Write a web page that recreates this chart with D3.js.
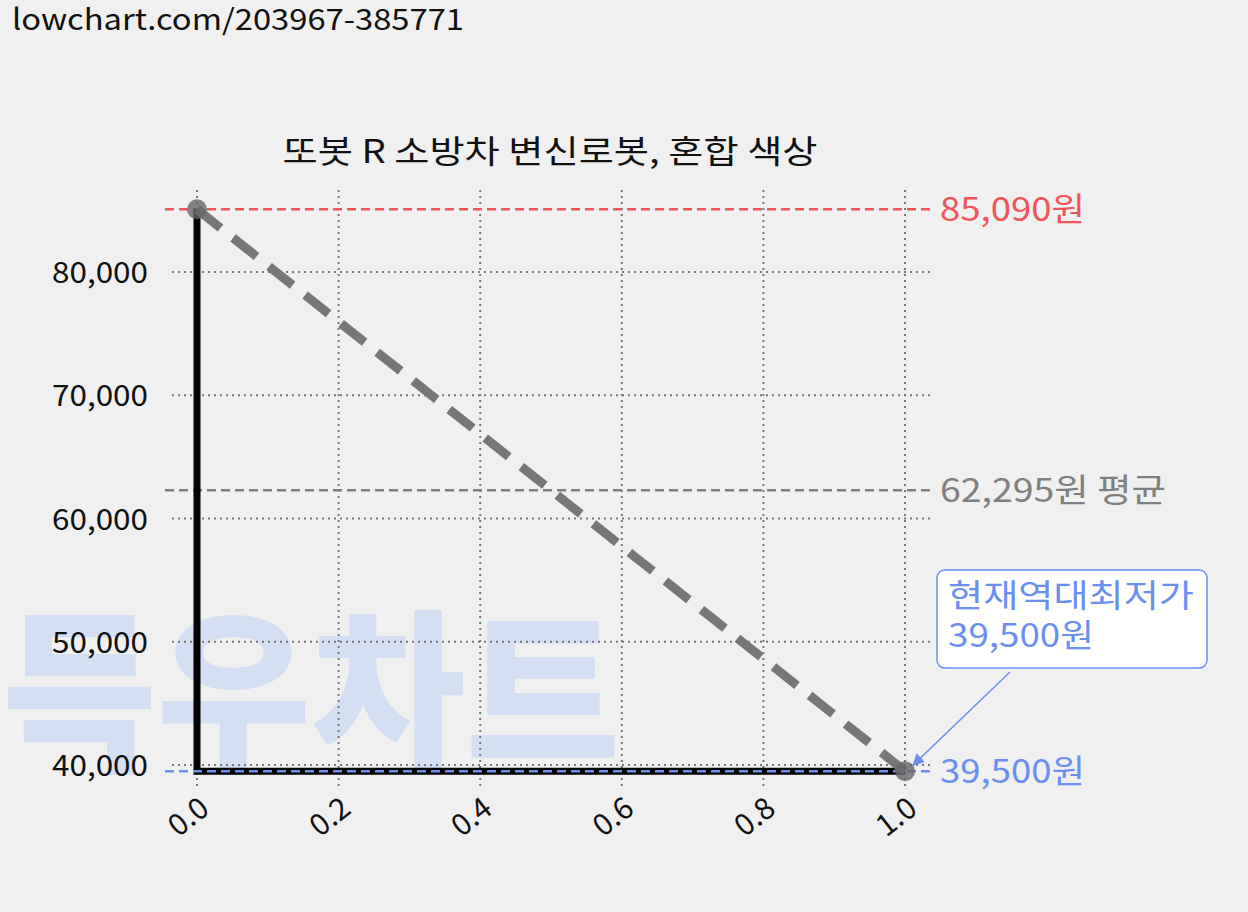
<!DOCTYPE html>
<html><head><meta charset="utf-8">
<script src="https://cdn.jsdelivr.net/npm/d3@7"></script>
<style>body{margin:0;background:#f0f0f0;font-family:"Noto Sans CJK KR","Noto Sans",sans-serif;}</style>
</head><body><svg id="c" width="1248" height="912"></svg>
<script>
var xTicks = [0, 0.2, 0.4, 0.6, 0.8, 1.0];
var yTicks = [40000, 50000, 60000, 70000, 80000];
var priceX = [0, 1];
var priceY = [85090, 39500];
var maxPrice = 85090, avgPrice = 62295, minPrice = 39500;

var svg = d3.select("#c");
var x = d3.scaleLinear().domain([0, 1]).range([197, 905]);
var y = d3.scaleLinear().domain([40000, 80000]).range([765, 272]);
var fmt = d3.format(",");

svg.append("text").attr("x", 12).attr("y", 30).attr("font-size", 29).attr("fill", "#111")
  .attr("textLength", 452).attr("lengthAdjust", "spacingAndGlyphs").text("lowchart.com/203967-385771");

// watermark
svg.append("text").attr("x", 2).attr("y", 758).attr("font-size", 175).attr("font-weight", 900)
  .attr("fill", "#d5dff3").attr("textLength", 618).attr("lengthAdjust", "spacingAndGlyphs").text("득우차트");

svg.append("text").attr("x", 550).attr("y", 163).attr("text-anchor", "middle").attr("font-size", 32).attr("fill", "#111")
  .attr("textLength", 535).attr("lengthAdjust", "spacingAndGlyphs").text("또봇 R 소방차 변신로봇, 혼합 색상");

// grid
svg.selectAll(".vg").data(xTicks).enter().append("line")
  .attr("x1", d => x(d)).attr("x2", d => x(d)).attr("y1", 190).attr("y2", 790)
  .attr("stroke", "#777").attr("stroke-width", 2).attr("stroke-dasharray", "2,4");
svg.selectAll(".hg").data(yTicks).enter().append("line")
  .attr("x1", 172).attr("x2", 932).attr("y1", d => y(d)).attr("y2", d => y(d))
  .attr("stroke", "#777").attr("stroke-width", 2).attr("stroke-dasharray", "2,4");

// tick labels
svg.selectAll(".yl").data(yTicks).enter().append("text")
  .attr("x", 148).attr("y", d => y(d) + 11).attr("text-anchor", "end").attr("font-size", 29).attr("fill", "#111")
  .attr("textLength", 96).attr("lengthAdjust", "spacingAndGlyphs").text(d => fmt(d));
svg.selectAll(".xl").data(xTicks).enter().append("text")
  .attr("transform", d => `translate(${x(d) + 14},${812}) rotate(-38)`)
  .attr("text-anchor", "end").attr("font-size", 30).attr("fill", "#111").text(d => d.toFixed(1));

// reference lines
function ref(v, color, label, w) {
  svg.append("line").attr("x1", 165).attr("x2", 935).attr("y1", y(v)).attr("y2", y(v))
    .attr("stroke", color).attr("stroke-width", 2.5).attr("stroke-dasharray", "9,5");
  svg.append("text").attr("x", 940).attr("y", y(v) + 12).attr("font-size", 33).attr("fill", color)
    .attr("textLength", w).attr("lengthAdjust", "spacingAndGlyphs").text(label);
}
ref(maxPrice, "#f0545c", fmt(maxPrice) + "원", 145);
ref(avgPrice, "#808080", fmt(avgPrice) + "원 평균", 226);

// step line
var step = d3.line().x(d => x(d[0])).y(d => y(d[1])).curve(d3.curveStepBefore);
svg.append("path").datum([[priceX[0], priceY[0]], [priceX[1], priceY[1]]]).attr("d", step)
  .attr("fill", "none").attr("stroke", "#000").attr("stroke-width", 7);
ref(minPrice, "#6b8ff0", fmt(minPrice) + "원", 145);

// dashed trend
svg.append("line").attr("x1", x(priceX[0])).attr("y1", y(priceY[0])).attr("x2", x(priceX[1])).attr("y2", y(priceY[1]))
  .attr("stroke", "#777").attr("stroke-width", 9).attr("stroke-dasharray", "30,16");
svg.selectAll(".pt").data(priceX).enter().append("circle")
  .attr("cx", d => x(d)).attr("cy", (d, i) => y(priceY[i])).attr("r", 10)
  .attr("fill", "#666").attr("opacity", 0.8);

// annotation
svg.append("rect").attr("x", 937).attr("y", 570).attr("width", 270).attr("height", 98).attr("rx", 8)
  .attr("fill", "#fff").attr("stroke", "#6b8ff0").attr("stroke-width", 1.5);
svg.append("text").attr("x", 948).attr("y", 607).attr("font-size", 32).attr("fill", "#6b8ff0")
  .attr("textLength", 246).attr("lengthAdjust", "spacingAndGlyphs").text("현재역대최저가");
svg.append("text").attr("x", 948).attr("y", 647).attr("font-size", 32).attr("fill", "#6b8ff0")
  .attr("textLength", 146).attr("lengthAdjust", "spacingAndGlyphs").text(fmt(minPrice) + "원");
svg.append("defs").append("marker").attr("id", "ah").attr("viewBox", "0 0 10 10").attr("refX", 9).attr("refY", 5)
  .attr("markerWidth", 8).attr("markerHeight", 8).attr("orient", "auto")
  .append("path").attr("d", "M0,0L10,5L0,10z").attr("fill", "#6b8ff0");
svg.append("line").attr("x1", 1010).attr("y1", 672).attr("x2", x(1) + 8).attr("y2", y(minPrice) - 6)
  .attr("stroke", "#6b8ff0").attr("stroke-width", 1.5).attr("marker-end", "url(#ah)");
</script></body></html>
